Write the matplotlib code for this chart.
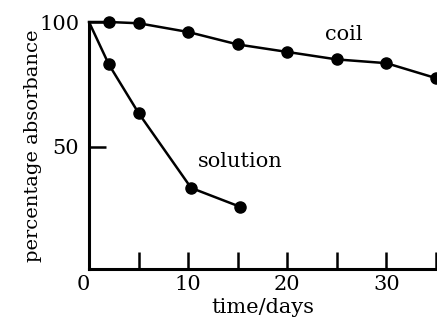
import matplotlib
matplotlib.use("Agg")
import matplotlib.pyplot as plt

# data
coil_days = [0, 2, 5, 10, 15, 20, 25, 30, 35]
coil_abs = [100, 100, 99.5, 96, 91, 88, 85, 83.5, 77.5]
solution_days = [0, 2, 5, 10.3, 15.2]
solution_abs = [100, 83, 63.5, 33.5, 26]
x_ticks = [5, 10, 15, 20, 25, 30, 35]
x_labels = ["", "10", "", "20", "", "30", ""]
y_ticks = [50, 100]
y_labels = ["50", "100"]

plt.rcParams['font.family'] = ['DejaVu Serif']
plt.rcParams['font.size'] = 15

fig = plt.figure(figsize=(4.37, 3.23), dpi=100)
ax = fig.add_axes([89 / 437, 54 / 323, 1 - 89 / 437, 247 / 323])

ax.plot(coil_days[1:], coil_abs[1:], 'o', color='black', ms=8, clip_on=False, zorder=3)
ax.plot(coil_days, coil_abs, '-', color='black', lw=1.8, clip_on=False)
ax.plot(solution_days[1:], solution_abs[1:], 'o', color='black', ms=8, clip_on=False, zorder=3)
ax.plot(solution_days, solution_abs, '-', color='black', lw=1.8)

ax.set_xlim(0, 35.1)
ax.set_ylim(1, 100)

for s in ['top', 'right']:
    ax.spines[s].set_visible(False)
ax.spines['left'].set_linewidth(2.2)
ax.spines['bottom'].set_linewidth(2.2)

ax.set_xticks(x_ticks)
ax.set_xticklabels(x_labels)
ax.set_yticks(y_ticks)
ax.set_yticklabels(y_labels)
ax.tick_params(direction='in', length=12, width=1.8, labelsize=15)
ax.tick_params(axis='x', pad=4)
ax.tick_params(axis='y', pad=7)
ax.text(-0.6, -1.5, "0", ha='center', va='top', fontsize=15)

ax.text(23.8, 94.8, "coil", va='center', fontsize=15)
ax.text(11.0, 44, "solution", va='center', fontsize=15)

ax.set_xlabel("time/days", fontsize=15, labelpad=3)
ax.set_ylabel("percentage absorbance", fontsize=14)
ax.yaxis.set_label_coords(-0.135, 0.5)

plt.savefig("out.png", dpi=100)
